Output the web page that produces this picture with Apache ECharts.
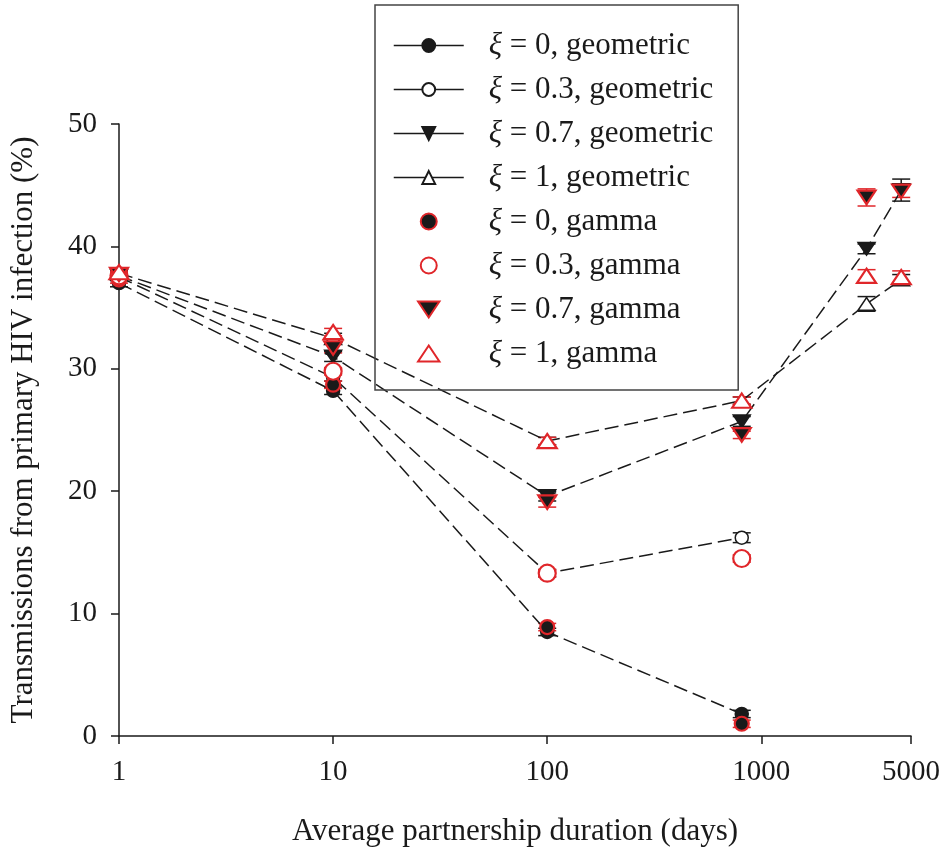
<!DOCTYPE html>
<html>
<head>
<meta charset="utf-8">
<script src="https://cdn.jsdelivr.net/npm/echarts@6/dist/echarts.min.js"></script>
<style>
  html, body { margin: 0; padding: 0; background: #fff; }
  #chart { width: 946px; height: 849px; }
</style>
</head>
<body>
<div id="chart"></div>
<script>
// x positions (days) and tick labels
var days = [1, 10, 100, 810, 3100, 4500];
var xTicks = [1, 10, 100, 1000, 5000];

// geometric distribution runs (lines)
var geo0 = [37.0, 28.2, 8.5, 1.8];
var geo03 = [37.5, 29.3, 13.3, 16.2];
var geo07 = [37.6, 31.0, 19.6, 25.7, 39.8, 44.6];
var geo1 = [37.8, 32.5, 24.1, 27.4, 35.3, 37.3];

// gamma distribution runs (markers only)
var gam0 = [37.3, 28.7, 8.9, 1.0];
var gam03 = [37.6, 29.8, 13.3, 14.5];
var gam07 = [37.7, 31.7, 19.1, 24.6, 44.0, 44.5];
var gam1 = [37.9, 33.0, 24.1, 27.4, 37.6, 37.5];

// error bar half widths
var geo0Err = [0.3, 0.3, 0.3, 0.3];
var geo03Err = [0.3, 0.3, 0.3, 0.4];
var geo07Err = [0.3, 0.4, 0.4, 0.4, 0.4, 0.9];
var geo1Err = [0.3, 0.4, 0.3, 0.3, 0.6, 0.4];
var gam0Err = [0.3, 0.3, 0.3, 0.3];
var gam03Err = [0.3, 0.3, 0.3, 0.3];
var gam07Err = [0.3, 0.4, 0.4, 0.3, 0.7, 0.5];
var gam1Err = [0.3, 0.3, 0.3, 0.3, 0.5, 0.5];

var RED = '#e0262a';
var INK = '#1a1a1a';
var FONT = '"Liberation Serif", "Times New Roman", serif';
var TRI_UP = 'path://M5,0L10,7.5L0,7.5Z';
var TRI_DOWN = 'path://M0,0L10,0L5,7.5Z';

function pts(vals){
  return vals.map(function(v, i){ return [days[i], v]; });
}
function errPts(vals, errs){
  return vals.map(function(v, i){ return [days[i], v, errs[i]]; });
}

function errSeries(vals, errs, color){
  return {
    type: 'custom',
    silent: true,
    z: 2,
    data: errPts(vals, errs),
    renderItem: function(params, api){
      var x = api.value(0), y = api.value(1), e = api.value(2);
      var top = api.coord([x, y + e]);
      var bot = api.coord([x, y - e]);
      var hw = 9;
      var st = { stroke: color, lineWidth: 1.5 };
      return {
        type: 'group',
        children: [
          { type: 'line', shape: { x1: top[0], y1: top[1], x2: bot[0], y2: bot[1] }, style: st },
          { type: 'line', shape: { x1: top[0] - hw, y1: top[1], x2: top[0] + hw, y2: top[1] }, style: st },
          { type: 'line', shape: { x1: bot[0] - hw, y1: bot[1], x2: bot[0] + hw, y2: bot[1] }, style: st }
        ]
      };
    }
  };
}

function geoSeries(name, vals, symbol, size, fill){
  return {
    name: name,
    type: 'line',
    z: 3,
    data: pts(vals),
    symbol: symbol,
    symbolSize: size,
    symbolKeepAspect: true,
    showAllSymbol: true,
    lineStyle: { color: INK, width: 1.5, type: [14, 6] },
    itemStyle: { color: fill, borderColor: INK, borderWidth: 1.5 }
  };
}

function gamSeries(name, vals, symbol, size, fill){
  return {
    name: name,
    type: 'scatter',
    z: 4,
    data: pts(vals),
    symbol: symbol,
    symbolSize: size,
    symbolKeepAspect: true,
    itemStyle: { color: fill, borderColor: RED, borderWidth: 2.2, opacity: 1 }
  };
}

var names = [
  'ξ = 0, geometric', 'ξ = 0.3, geometric', 'ξ = 0.7, geometric', 'ξ = 1, geometric',
  'ξ = 0, gamma', 'ξ = 0.3, gamma', 'ξ = 0.7, gamma', 'ξ = 1, gamma'
];

var chart = echarts.init(document.getElementById('chart'));
var option = {
  animation: false,
  backgroundColor: '#fff',
  textStyle: { fontFamily: FONT },
  grid: { left: 119, right: 35, top: 124, bottom: 113, outerBoundsMode: 'none' },
  legend: {
    data: names,
    orient: 'vertical',
    left: 375,
    top: 5,
    padding: [25, 25, 21, 18],
    itemGap: 13,
    itemWidth: 70,
    itemHeight: 16,
    borderColor: '#444',
    borderWidth: 1.5,
    lineStyle: { type: 'solid', width: 1.5 },
    formatter: function(n){ return n.replace('ξ', '{x|ξ}'); },
    textStyle: {
      fontFamily: FONT, fontSize: 31, color: INK, lineHeight: 30,
      rich: { x: { fontFamily: FONT, fontStyle: 'italic', fontSize: 31, color: INK, padding: [0, 0, 0, 20] } }
    }
  },
  xAxis: {
    type: 'log',
    logBase: 10,
    min: 1,
    max: 5000,
    name: 'Average partnership duration (days)',
    nameLocation: 'middle',
    nameGap: 80,
    nameTextStyle: { fontFamily: FONT, fontSize: 31, color: INK },
    axisLine: { lineStyle: { color: INK, width: 1.5 } },
    axisTick: { show: true, length: 8, inside: false, customValues: xTicks, lineStyle: { color: INK, width: 1.5 } },
    axisLabel: {
      customValues: xTicks,
      margin: 22,
      fontFamily: FONT, fontSize: 29, color: INK,
      formatter: function(v){ return String(Math.round(v)); }
    },
    splitLine: { show: false }
  },
  yAxis: {
    type: 'value',
    min: 0,
    max: 50,
    interval: 10,
    name: 'Transmissions from primary HIV infection (%)',
    nameLocation: 'middle',
    nameGap: 80,
    nameTextStyle: { fontFamily: FONT, fontSize: 31, color: INK },
    axisLine: { show: true, lineStyle: { color: INK, width: 1.5 } },
    axisTick: { show: true, length: 8, inside: false, lineStyle: { color: INK, width: 1.5 } },
    axisLabel: { margin: 22, fontFamily: FONT, fontSize: 29, color: INK },
    splitLine: { show: false }
  },
  series: [
    errSeries(geo0, geo0Err, INK),
    errSeries(geo03, geo03Err, INK),
    errSeries(geo07, geo07Err, INK),
    errSeries(geo1, geo1Err, INK),
    errSeries(gam0, gam0Err, RED),
    errSeries(gam03, gam03Err, RED),
    errSeries(gam07, gam07Err, RED),
    errSeries(gam1, gam1Err, RED),
    geoSeries(names[0], geo0, 'circle', 13, INK),
    geoSeries(names[1], geo03, 'circle', 13, '#fff'),
    geoSeries(names[2], geo07, TRI_DOWN, 17, INK),
    geoSeries(names[3], geo1, TRI_UP, 17, '#fff'),
    gamSeries(names[4], gam0, 'circle', 14, INK),
    gamSeries(names[5], gam03, 'circle', 17, '#fff'),
    gamSeries(names[6], gam07, TRI_DOWN, 18, INK),
    gamSeries(names[7], gam1, TRI_UP, 19, '#fff')
  ]
};
chart.setOption(option);
</script>
</body>
</html>
